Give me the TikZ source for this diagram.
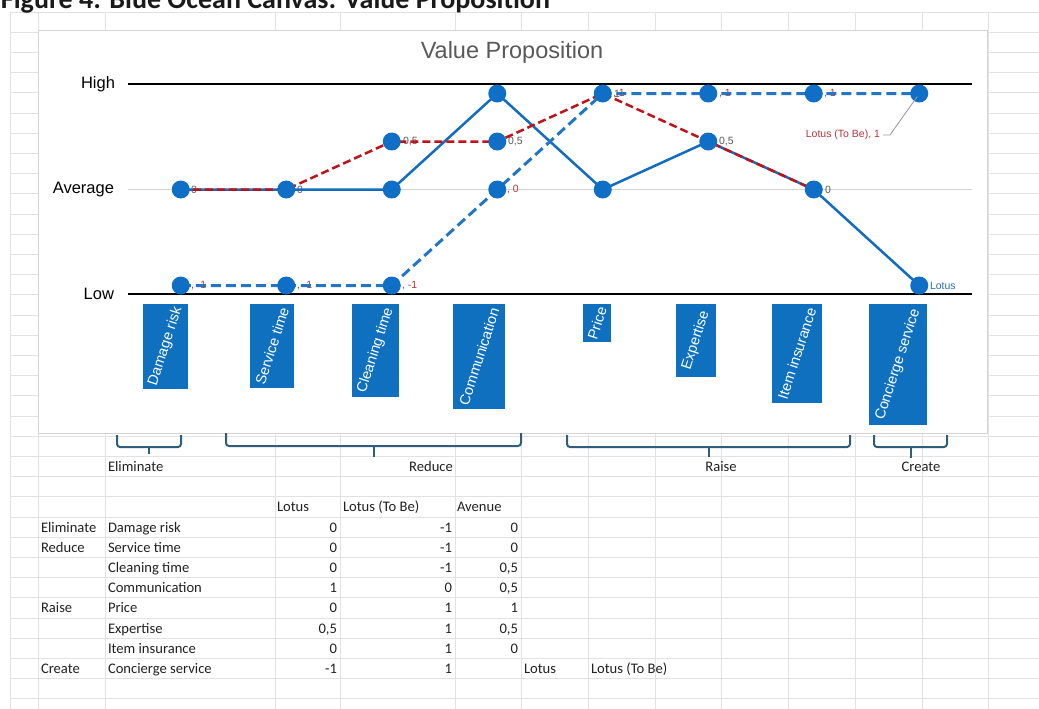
\documentclass[tikz,border=0pt]{standalone}
\usepackage{fontspec}
\setmainfont{Liberation Sans}
\newfontfamily\cellfont{Carlito}

\definecolor{gridgray}{RGB}{226,226,226}
\definecolor{chartborder}{RGB}{212,212,212}
\definecolor{solidblue}{RGB}{18,108,192}
\definecolor{dashblue}{RGB}{34,118,196}
\definecolor{markblue}{RGB}{15,110,198}
\definecolor{catblue}{RGB}{16,112,192}
\definecolor{avred}{RGB}{192,18,24}
\definecolor{labred}{RGB}{188,52,62}
\definecolor{labgray}{RGB}{89,89,89}
\definecolor{lotusblue}{RGB}{44,112,180}
\definecolor{brackcol}{RGB}{46,94,124}
\definecolor{celltext}{RGB}{34,34,34}
\definecolor{titletext}{RGB}{26,26,26}

% one row of the data table: id, baseline, group, factor, Lotus, Lotus (To Be), Avenue
\newcommand\datarow[7]{%
  \node[cellL] (grp#1) at (41,#2) {#3};
  \node[cellL] (fac#1) at (108,#2) {#4};
  \node[cellR] (lo#1) at (337,#2) {#5};
  \node[cellR] (tb#1) at (452,#2) {#6};
  \node[cellR] (av#1) at (518,#2) {#7};
}

\begin{document}
\begin{tikzpicture}[x=1pt,y=-1pt,
  every node/.style={inner sep=0pt,outer sep=0pt},
  gridline/.style={draw=gridgray,line width=0.9pt},
  cell/.style={font=\cellfont\fontsize{14.6}{16}\selectfont,text=celltext},
  cellL/.style={cell,anchor=base west},
  cellR/.style={cell,anchor=base east},
  cellC/.style={cell,anchor=base},
  axislab/.style={font=\fontsize{16.5}{18}\selectfont,text=black,anchor=east},
  dlab/.style={font=\fontsize{10.5}{12}\selectfont,anchor=west},
  graylab/.style={dlab,text=labgray},
  redlab/.style={dlab,text=labred},
  catbox/.style={rectangle,fill=catblue,draw=none},
  cattext/.style={text=white,font=\fontsize{14.5}{16}\selectfont,rotate=72},
  marker/.style={circle,fill=markblue,minimum size=18pt},
  lotusline/.style={draw=solidblue,line width=2.5pt,line join=round},
  tobeline/.style={draw=dashblue,line width=3pt,dash pattern=on 10pt off 5pt},
  avenueline/.style={draw=avred,line width=2.5pt,dash pattern=on 8pt off 4pt},
  bracket/.style={draw=brackcol,line width=2pt,rounded corners=3pt},
  leader/.style={draw=gray!80,line width=0.8pt}
]
\useasboundingbox (0,0) rectangle (1039,709);
\clip (0,0) rectangle (1039,709);
\fill[white] (0,0) rectangle (1039,709);

% spreadsheet grid
\foreach \k in {0,...,34}
  \draw[gridline] (10,{12+20.2*\k}) -- (1039,{12+20.2*\k});
\foreach \xx in {10,38,105,275,340,455,521,588,655,721,788,855,922,988}
  \draw[gridline] (\xx,12) -- (\xx,709);

% document caption above the sheet
\node[anchor=base west,font=\cellfont\bfseries\fontsize{28}{30}\selectfont,text=titletext]
  (figtitle) at (1,9) {Figure 4: Blue Ocean Canvas: Value Proposition};

% chart area
\draw[chartborder,fill=white,line width=1pt] (38,31) rectangle (987,433);
\node[font=\fontsize{23.5}{26}\selectfont,text=labgray] (charttitle) at (512,52) {Value Proposition};

% value axis levels
\draw[black,line width=1.4pt] (128,84) -- (972,84);
\draw[chartborder,line width=1pt] (128,189.5) -- (972,189.5);
\draw[black,line width=1.4pt] (128,294) -- (972,294);
\node[axislab] (high) at (115,84) {High};
\node[axislab] (avg) at (114,189.5) {Average};
\node[axislab] (low) at (114,294) {Low};

% data points: Lotus
\coordinate (L1) at (180.75,189.5);
\coordinate (L2) at (286.25,189.5);
\coordinate (L3) at (391.75,189.5);
\coordinate (L4) at (497.25,93.5);
\coordinate (L5) at (602.75,189.5);
\coordinate (L6) at (708.25,141.5);
\coordinate (L7) at (813.75,189.5);
\coordinate (L8) at (919.25,285.5);
% data points: Lotus (To Be)
\coordinate (T1) at (180.75,285.5);
\coordinate (T2) at (286.25,285.5);
\coordinate (T3) at (391.75,285.5);
\coordinate (T4) at (497.25,189.5);
\coordinate (T5) at (602.75,93.5);
\coordinate (T6) at (708.25,93.5);
\coordinate (T7) at (813.75,93.5);
\coordinate (T8) at (919.25,93.5);
% data points: Avenue
\coordinate (A1) at (180.75,189.5);
\coordinate (A2) at (286.25,189.5);
\coordinate (A3) at (391.75,141.5);
\coordinate (A4) at (497.25,141.5);
\coordinate (A5) at (602.75,93.5);
\coordinate (A6) at (708.25,141.5);
\coordinate (A7) at (813.75,189.5);

% data labels
\node[graylab] (lbA1) at (191,189.5) {0};
\node[graylab] (lbA2) at (297,189.5) {0};
\node[graylab] (lbA3) at (403,141.5) {0,5};
\node[graylab] (lbA4) at (508,141.5) {0,5};
\node[graylab] (lbA5) at (614,93.5) {1};
\node[graylab] (lbA6) at (719,141.5) {0,5};
\node[graylab] (lbA7) at (825,189.5) {0};
\node[redlab] (lbT1) at (191,285.5) {, -1};
\node[redlab] (lbT2) at (297,285.5) {, -1};
\node[redlab] (lbT3) at (402,285.5) {, -1};
\node[redlab] (lbT4) at (507,189.5) {, 0};
\node[redlab] (lbT5) at (613,93.5) {, 1};
\node[redlab] (lbT6) at (719,93.5) {, 1};
\node[redlab] (lbT7) at (824,93.5) {, 1};
\node[dlab,text=labred,anchor=east] (lbT8) at (880,135) {Lotus (To Be), 1};
\node[dlab,text=lotusblue] (lbL8) at (930,285.5) {Lotus};

% series lines
\draw[lotusline] (L1) -- (L2) -- (L3) -- (L4) -- (L5) -- (L6) -- (L7) -- (L8);
\draw[tobeline] (T1) -- (T2) -- (T3) -- (T4) -- (T5) -- (T6) -- (T7) -- (T8);
\draw[avenueline] (A1) -- (A2) -- (A3) -- (A4) -- (A5) -- (A6) -- (A7);

% markers
\foreach \p in {L1,L2,L3,L4,L5,L6,L7,L8,T1,T2,T3,T4,T5,T6,T7,T8,A3,A4}
  \node[marker] (m\p) at (\p) {};

% leader line of the end label
\draw[leader] ([xshift=3pt]lbT8.east) -- ++(7,0) -- ([shift={(-2,3)}]T8);

% factor boxes under the axis
\node[catbox,minimum width=45pt,minimum height=85pt] (box1) at (165.5,346.5) {};
\node[catbox,minimum width=44pt,minimum height=84pt] (box2) at (272,346) {};
\node[catbox,minimum width=47pt,minimum height=93pt] (box3) at (375.5,350.5) {};
\node[catbox,minimum width=52pt,minimum height=105pt] (box4) at (479,356.5) {};
\node[catbox,minimum width=28pt,minimum height=38pt] (box5) at (597,323) {};
\node[catbox,minimum width=40pt,minimum height=73pt] (box6) at (696,340.5) {};
\node[catbox,minimum width=50pt,minimum height=99pt] (box7) at (797,353.5) {};
\node[catbox,minimum width=58pt,minimum height=121pt] (box8) at (898,364.5) {};
\node[cattext] (cat1) at (box1.center) {Damage risk};
\node[cattext] (cat2) at (box2.center) {Service time};
\node[cattext] (cat3) at (box3.center) {Cleaning time};
\node[cattext] (cat4) at (box4.center) {Communication};
\node[cattext] (cat5) at (box5.center) {Price};
\node[cattext] (cat6) at (box6.center) {Expertise};
\node[cattext] (cat7) at (box7.center) {Item insurance};
\node[cattext] (cat8) at (box8.center) {Concierge service};

% ERRC brackets
\draw[bracket] (117,435) -- (117,447) -- (181,447) -- (181,435);
\draw[brackcol,line width=2pt] (149,447) -- (149,454);
\draw[bracket] (226,433) -- (226,446) -- (521,446) -- (521,433);
\draw[brackcol,line width=2pt] (374,446) -- (374,457);
\draw[bracket] (567,435) -- (567,447) -- (850,447) -- (850,435);
\draw[brackcol,line width=2pt] (709,447) -- (709,457);
\draw[bracket] (874,435) -- (874,447) -- (947,447) -- (947,435);
\draw[brackcol,line width=2pt] (911,447) -- (911,458);

\node[cellL] (brElim) at (108,471.5) {Eliminate};
\node[cellC] (brRed) at (431,471.5) {Reduce};
\node[cellC] (brRaise) at (721,471.5) {Raise};
\node[cellC] (brCreate) at (921,471.5) {Create};

% data table
\node[cellL] (hLo) at (277,511.9) {Lotus};
\node[cellL] (hTb) at (343,511.9) {Lotus (To Be)};
\node[cellL] (hAv) at (457,511.9) {Avenue};
\datarow{1}{532.1}{Eliminate}{Damage risk}{0}{-1}{0}
\datarow{2}{552.3}{Reduce}{Service time}{0}{-1}{0}
\datarow{3}{572.5}{}{Cleaning time}{0}{-1}{0,5}
\datarow{4}{592.7}{}{Communication}{1}{0}{0,5}
\datarow{5}{612.9}{Raise}{Price}{0}{1}{1}
\datarow{6}{633.1}{}{Expertise}{0,5}{1}{0,5}
\datarow{7}{653.3}{}{Item insurance}{0}{1}{0}
\datarow{8}{673.5}{Create}{Concierge service}{-1}{1}{}
\node[cellL] (legLo) at (524,673.5) {Lotus};
\node[cellL] (legTb) at (591,673.5) {Lotus (To Be)};
\end{tikzpicture}
\end{document}
